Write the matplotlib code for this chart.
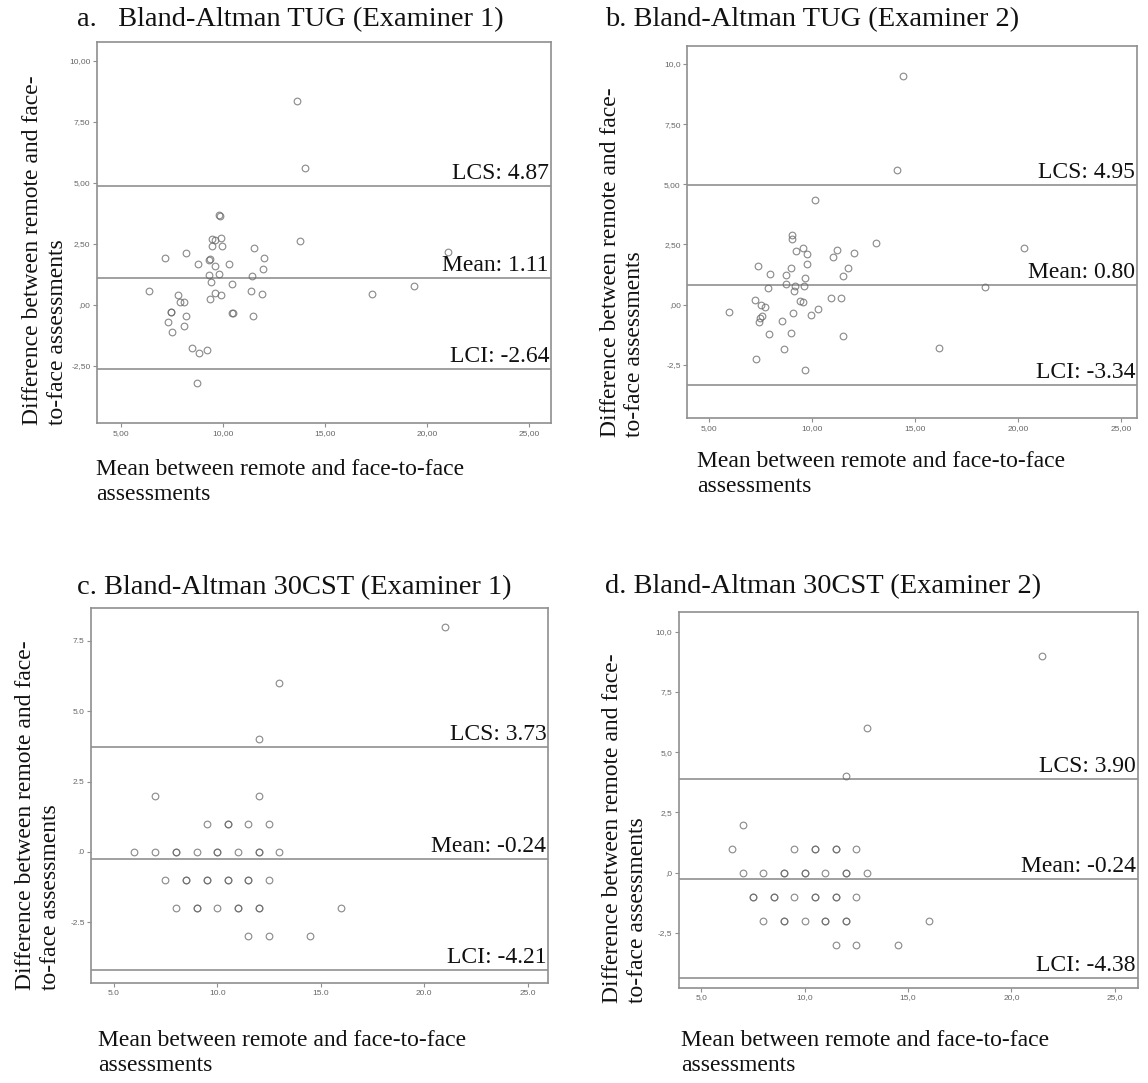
import matplotlib
matplotlib.use("Agg")
import matplotlib.pyplot as plt

W, H = 1148, 1083

# ---------------- data ----------------
a_x = [13.63, 14.04, 9.81, 9.84, 13.76, 9.49, 9.61, 9.92, 9.48, 9.95, 11.52, 21.0, 7.16, 8.20, 12.04,
       8.78, 9.31, 9.39, 9.61, 10.31, 11.96, 9.31, 9.82, 11.41, 9.43, 10.47, 6.39, 11.37, 9.62, 9.92,
       11.90, 17.30, 19.36, 7.79, 7.91, 8.09, 9.35, 7.47, 7.49, 8.22, 10.46, 10.48, 11.49, 7.30, 8.10,
       7.50, 8.48, 8.86, 9.22, 8.73]
a_y = [8.37, 5.60, 3.69, 3.65, 2.64, 2.69, 2.66, 2.73, 2.40, 2.40, 2.35, 2.19, 1.94, 2.12, 1.91,
       1.68, 1.84, 1.87, 1.59, 1.68, 1.49, 1.22, 1.28, 1.20, 0.94, 0.86, 0.59, 0.59, 0.51, 0.41,
       0.45, 0.46, 0.78, 0.40, 0.12, 0.11, 0.25, -0.30, -0.30, -0.46, -0.31, -0.31, -0.44, -0.71, -0.86,
       -1.11, -1.75, -1.95, -1.86, -3.18]

b_x = [14.40, 14.13, 10.15, 9.03, 9.01, 13.11, 9.19, 9.53, 9.74, 11.18, 10.99, 12.02, 20.30, 9.73,
       7.38, 7.95, 8.95, 8.72, 11.72, 11.51, 9.65, 8.74, 9.17, 9.60, 7.83, 9.13, 18.40, 7.22, 9.42,
       9.53, 10.92, 11.39, 7.52, 7.69, 5.96, 9.06, 10.29, 9.92, 7.56, 7.45, 7.43, 8.54, 7.88, 8.97,
       11.51, 8.63, 7.27, 9.63, 16.14]
b_y = [9.51, 5.59, 4.36, 2.89, 2.71, 2.56, 2.22, 2.35, 2.11, 2.27, 1.96, 2.14, 2.34, 1.70,
       1.60, 1.28, 1.52, 1.23, 1.50, 1.20, 1.11, 0.87, 0.78, 0.77, 0.70, 0.55, 0.74, 0.20, 0.16,
       0.09, 0.26, 0.28, -0.03, -0.10, -0.30, -0.34, -0.19, -0.45, -0.46, -0.57, -0.71, -0.70, -1.23, -1.20,
       -1.31, -1.85, -2.27, -2.71, -1.82]

c_x = [21.0, 13.0, 12.0, 7.0, 12.0,
       9.5, 10.5, 10.5, 11.5, 12.5,
       6.0, 7.0, 8.0, 8.0, 9.0, 10.0, 10.0, 11.0, 12.0, 12.0, 13.0,
       7.5, 8.5, 8.5, 9.5, 9.5, 10.5, 10.5, 11.5, 11.5, 12.5,
       8.0, 9.0, 9.0, 10.0, 11.0, 11.0, 12.0, 12.0, 16.0,
       11.5, 12.5, 14.5]
c_y = [8, 6, 4, 2, 2,
       1, 1, 1, 1, 1,
       0, 0, 0, 0, 0, 0, 0, 0, 0, 0, 0,
       -1, -1, -1, -1, -1, -1, -1, -1, -1, -1,
       -2, -2, -2, -2, -2, -2, -2, -2, -2,
       -3, -3, -3]

d_x = [21.5, 13.0, 12.0, 7.0,
       6.5, 9.5, 10.5, 10.5, 11.5, 11.5, 12.5,
       7.0, 8.0, 9.0, 9.0, 10.0, 10.0, 11.0, 12.0, 12.0, 13.0,
       7.5, 7.5, 8.5, 8.5, 9.5, 10.5, 10.5, 11.5, 11.5, 12.5,
       8.0, 9.0, 9.0, 10.0, 11.0, 11.0, 12.0, 12.0, 16.0,
       11.5, 12.5, 14.5]
d_y = [9, 6, 4, 2,
       1, 1, 1, 1, 1, 1, 1,
       0, 0, 0, 0, 0, 0, 0, 0, 0, 0,
       -1, -1, -1, -1, -1, -1, -1, -1, -1, -1,
       -2, -2, -2, -2, -2, -2, -2, -2, -2,
       -3, -3, -3]

titles = ["a.   Bland-Altman TUG (Examiner 1)", "b. Bland-Altman TUG (Examiner 2)",
          "c. Bland-Altman 30CST (Examiner 1)", "d. Bland-Altman 30CST (Examiner 2)"]
lcs = [4.87, 4.95, 3.73, 3.90]
means = [1.11, 0.80, -0.24, -0.24]
lci = [-2.64, -3.34, -4.21, -4.38]

x_ticks = [5, 10, 15, 20, 25]
x_ticklabels = [["5,00", "10,00", "15,00", "20,00", "25,00"],
                ["5,00", "10,00", "15,00", "20,00", "25,00"],
                ["5.0", "10.0", "15.0", "20.0", "25.0"],
                ["5,0", "10,0", "15,0", "20,0", "25,0"]]
y_ticks = [[-2.5, 0, 2.5, 5, 7.5, 10], [-2.5, 0, 2.5, 5, 7.5, 10],
           [-2.5, 0, 2.5, 5, 7.5], [-2.5, 0, 2.5, 5, 7.5, 10]]
y_ticklabels = [["-2,50", ",00", "2,50", "5,00", "7,50", "10,00"],
                ["-2,5", ",00", "2,50", "5,00", "7,50", "10,0"],
                ["-2.5", ".0", "2.5", "5.0", "7.5"],
                ["-2,5", ",0", "2,5", "5,0", "7,5", "10,0"]]
ylims = [(-4.85, 10.79), (-4.73, 10.75), (-4.67, 8.66), (-4.77, 10.83)]
xlims = [(3.83, 26.06), (3.92, 25.78), (3.9, 26.0), (3.9, 26.1)]

ylabel = "Difference between remote and face-\nto-face assessments"
xlabel = "Mean between remote and face-to-face\nassessments"

# ---------------- layout (pixels) ----------------
boxes = [(96.7, 551.0, 41.7, 423.3), (687.0, 1137.3, 46.0, 418.3),
         (91.0, 548.3, 608.3, 983.3), (678.5, 1137.6, 611.7, 987.7)]
title_pos = [(77, 20), (605, 20), (77, 588), (605, 587)]
ylab_pos = [(45.5, 425), (622.5, 437), (38, 990), (624.5, 1003)]
xlab_pos = [(96, 459), (697, 451), (98, 1030), (681, 1030)]

serif = "Liberation Serif"
spine_c = "#8f8f8f"
line_c = "#a0a0a0"
mark_c = "#686868"

fig = plt.figure(figsize=(W / 100, H / 100), dpi=100)
fig.patch.set_facecolor("white")

data = [(a_x, a_y), (b_x, b_y), (c_x, c_y), (d_x, d_y)]

for i in range(4):
    l, r, t, b = boxes[i]
    ax = fig.add_axes([l / W, 1 - b / H, (r - l) / W, (b - t) / H])
    xs, ys = data[i]
    ax.plot(xs, ys, linestyle="none", marker="o", markersize=4.8, markerfacecolor="none",
            markeredgecolor=mark_c, markeredgewidth=0.85, alpha=0.75, zorder=3)
    for val, lab in [(lcs[i], "LCS: %.2f" % lcs[i]), (means[i], "Mean: %.2f" % means[i]),
                     (lci[i], "LCI: %.2f" % lci[i])]:
        ax.axhline(val, color=line_c, lw=1.4, zorder=2)
        ax.annotate(lab, xy=(1, val), xycoords=("axes fraction", "data"),
                    xytext=(-2, 2), textcoords="offset pixels", ha="right", va="bottom",
                    fontsize=17, family=serif, color="#111111")
    ax.set_xlim(*xlims[i])
    ax.set_ylim(*ylims[i])
    ax.set_xticks(x_ticks)
    ax.set_xticklabels(x_ticklabels[i])
    ax.set_yticks(y_ticks[i])
    ax.set_yticklabels(y_ticklabels[i])
    ax.tick_params(direction="out", length=3, width=0.8, color=spine_c, labelsize=6,
                   labelcolor="#666666", pad=1.5)
    for s in ax.spines.values():
        s.set_color(spine_c)
        s.set_linewidth(1.2)
    for lab in ax.get_xticklabels() + ax.get_yticklabels():
        lab.set_family("Liberation Sans")

    tx, ty = title_pos[i]
    fig.text(tx / W, 1 - ty / H, titles[i], ha="left", va="center", fontsize=20.5,
             family=serif, color="#111111")
    yx, yy = ylab_pos[i]
    fig.text(yx / W, 1 - yy / H, ylabel, rotation=90, ha="center", va="bottom",
             multialignment="left", fontsize=17, family=serif, color="#111111", linespacing=1.25)
    xx, xy = xlab_pos[i]
    fig.text(xx / W, 1 - xy / H, xlabel, ha="left", va="top", multialignment="left",
             fontsize=17, family=serif, color="#111111", linespacing=1.28)

fig.savefig("out.png", dpi=100, facecolor="white")
